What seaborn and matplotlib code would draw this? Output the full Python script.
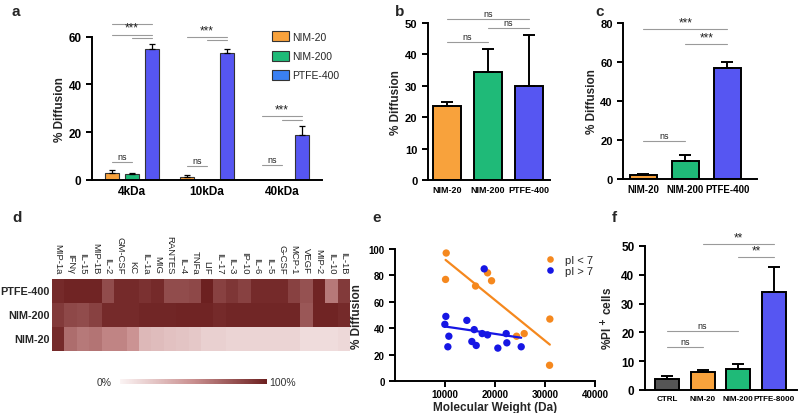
import numpy as np
import pandas as pd
import matplotlib
matplotlib.use('Agg')
import matplotlib.pyplot as plt
from matplotlib.colors import LinearSegmentedColormap
from matplotlib.patches import Patch
import seaborn as sns

# ---- data ----
# a: % diffusion by dextran size
sizes = ['4kDa', '10kDa', '40kDa']
groups_a = ['NIM-20', 'NIM-200', 'PTFE-400']
a_nim20 = [3.0, 1.3, 0.0]
a_nim200 = [2.5, 0.0, 0.0]
a_ptfe = [55.0, 53.2, 18.9]
a_nim20_err = [1.0, 0.7, 0.0]
a_nim200_err = [0.5, 0.0, 0.0]
a_ptfe_err = [1.8, 1.5, 3.5]

# b and c: % diffusion per membrane
mem3 = ['NIM-20', 'NIM-200', 'PTFE-400']
b_vals = [23.5, 34.5, 29.8]
b_err = [1.2, 7.3, 16.5]
c_vals = [2.0, 9.3, 57.0]
c_err = [0.5, 3.3, 3.0]

# d: cytokine diffusion heatmap (% of max)
cytokines = ['MIP-1a', 'IFNγ', 'IL-15', 'MIP-1B', 'IL-2', 'GM-CSF', 'KC', 'IL-1a', 'MIG',
             'RANTES', 'IL-4', 'TNFa', 'LIF', 'IL-17', 'IL-3', 'IP-10', 'IL-6', 'IL-5',
             'G-CSF', 'MCP-1', 'VEGF', 'MIP-2', 'IL-10', 'IL-1B']
hm_rows = ['PTFE-400', 'NIM-200', 'NIM-20']
d_ptfe = [95, 98, 98, 98, 80, 95, 95, 92, 95, 80, 80, 82, 100, 85, 90, 85, 95, 95, 95, 85, 78, 98, 60, 88]
d_nim200 = [88, 82, 80, 85, 95, 95, 95, 97, 97, 97, 98, 98, 98, 95, 97, 97, 97, 97, 97, 97, 75, 98, 98, 95]
d_nim20 = [95, 65, 60, 62, 55, 55, 48, 30, 28, 25, 24, 22, 18, 18, 16, 16, 16, 16, 16, 16, 12, 12, 12, 14]

# e: diffusion vs molecular weight
e_acid_mw = [10200, 10070, 16070, 18470, 19270, 24270, 25800, 30930, 30870]
e_acid_diff = [97, 77, 72, 82, 76, 34, 36, 47, 12]
e_basic_mw = [10130, 9930, 10730, 10530, 14330, 15330, 15800, 16200, 17400, 17800,
              18470, 20530, 22200, 22330, 25200]
e_basic_diff = [49, 43, 34, 26, 46, 30, 39, 27, 36, 85, 35, 25, 36, 29, 26]

# f: % PI+ cells
f_cats = ['CTRL', 'NIM-20', 'NIM-200', 'PTFE-8000']
f_vals = [3.8, 6.3, 7.3, 34.0]
f_err = [1.2, 0.5, 1.8, 8.7]

ORANGE = '#F8A23C'
GREEN = '#1FBA78'
PURPLE = '#5656F2'

sns.set_style('ticks')
plt.rcParams['font.family'] = ['Liberation Sans', 'DejaVu Sans']
plt.rcParams['font.weight'] = 'bold'
plt.rcParams['axes.labelweight'] = 'bold'

fig = plt.figure(figsize=(8, 4.14), dpi=100)


def prism(ax, ysize=8):
    sns.despine(ax=ax)
    for s in ['left', 'bottom']:
        ax.spines[s].set_linewidth(1.4)
        ax.spines[s].set_color('black')
    ax.tick_params(axis='y', width=1.4, length=4, labelsize=ysize, colors='black')
    ax.tick_params(axis='x', length=0, colors='black')


def sig(ax, x0, x1, y, text):
    ax.plot([x0, x1], [y, y], color='#9a9a9a', lw=0.8, clip_on=False)
    if text:
        size = 8.5 if '*' in text else 6.5
        ax.annotate(text, xy=((x0 + x1) / 2, y), xytext=(0, 0.5), textcoords='offset points',
                    ha='center', va='bottom', fontsize=size, fontweight='normal',
                    color='#222222', annotation_clip=False)


def upper_err(ax, bars, vals, errs, lw=1.0, cap=3):
    xs = [b.get_x() + b.get_width() / 2 for b in bars]
    ax.errorbar(xs, vals, yerr=[np.zeros(len(errs)), errs], fmt='none', ecolor='black',
                elinewidth=lw, capsize=cap, capthick=lw)
    return xs


# ---- a ----
axa = fig.add_axes([0.115, 0.563, 0.2875, 0.346])
df_a = pd.DataFrame({
    'size': sizes * 3,
    'group': [g for g in groups_a for _ in sizes],
    'value': a_nim20 + a_nim200 + a_ptfe,
})
sns.barplot(data=df_a, x='size', y='value', hue='group', hue_order=groups_a,
            palette=[ORANGE, GREEN, PURPLE], gap=0.3, errorbar=None, legend=False,
            saturation=1, edgecolor='#333333', linewidth=0.8, ax=axa)
cx = []
for cont, v, e in zip(axa.containers, [a_nim20, a_nim200, a_ptfe], [a_nim20_err, a_nim200_err, a_ptfe_err]):
    cx.append(upper_err(axa, cont, v, e, lw=0.9, cap=2.5))
axa.set_ylim(0, 60)
axa.set_xlim(-0.53, 2.53)
axa.set_yticks([0, 20, 40, 60])
axa.set_xlabel('')
axa.set_ylabel('% Diffusion', fontsize=8.5, labelpad=2)
axa.tick_params(axis='x', labelsize=8.5)
prism(axa, ysize=8.5)
sig(axa, cx[0][0], cx[2][0], 65.2, '')
sig(axa, cx[0][0], cx[2][0], 60.9, '***')
sig(axa, cx[1][0], cx[2][0], 59.6, '')
sig(axa, cx[0][0], cx[1][0], 7.6, 'ns')
sig(axa, cx[0][1], cx[2][1], 60.0, '***')
sig(axa, cx[1][1], cx[2][1], 58.7, '')
sig(axa, cx[0][1], cx[1][1], 5.9, 'ns')
sig(axa, cx[0][2], cx[2][2], 26.9, '***')
sig(axa, cx[1][2], cx[2][2], 25.2, '')
sig(axa, cx[0][2], cx[1][2], 6.4, 'ns')
handles = [Patch(facecolor=c, edgecolor='#333333', linewidth=0.8, label=g)
           for c, g in zip([ORANGE, GREEN, '#3A80F2'], groups_a)]
fig.legend(handles=handles, loc='upper left', bbox_to_anchor=(0.328, 0.945), frameon=False,
           prop={'size': 7.5, 'weight': 'normal'}, handlelength=1.7, handleheight=1.1,
           labelspacing=0.85, handletextpad=0.3)

# ---- b ----
axb = fig.add_axes([0.535, 0.563, 0.1525, 0.379])
sns.barplot(x=mem3, y=b_vals, hue=mem3, palette=[ORANGE, GREEN, PURPLE], width=0.68,
            legend=False, saturation=1, edgecolor='black', linewidth=1.4, ax=axb)
bx = upper_err(axb, axb.patches, b_vals, b_err, lw=1.4, cap=4)
axb.set_ylim(0, 50)
axb.set_xlim(-0.46, 2.51)
axb.set_yticks([0, 10, 20, 30, 40, 50])
axb.set_ylabel('% Diffusion', fontsize=8.5, labelpad=2)
axb.tick_params(axis='x', labelsize=6.5)
prism(axb)
sig(axb, bx[0], bx[2], 51.3, 'ns')
sig(axb, bx[1], bx[2], 48.4, 'ns')
sig(axb, bx[0], bx[1], 43.9, 'ns')

# ---- c ----
axc = fig.add_axes([0.779, 0.565, 0.1675, 0.377])
sns.barplot(x=mem3, y=c_vals, hue=mem3, palette=[ORANGE, GREEN, PURPLE], width=0.65,
            legend=False, saturation=1, edgecolor='black', linewidth=1.4, ax=axc)
ccx = upper_err(axc, axc.patches, c_vals, c_err, lw=1.4, cap=4)
axc.set_ylim(0, 80)
axc.set_xlim(-0.48, 2.71)
axc.set_yticks([0, 20, 40, 60, 80])
axc.set_ylabel('% Diffusion', fontsize=8.5, labelpad=2)
axc.tick_params(axis='x', labelsize=7)
prism(axc)
sig(axc, ccx[0], ccx[2], 76.9, '***')
sig(axc, ccx[1], ccx[2], 69.2, '***')
sig(axc, ccx[0], ccx[1], 19.5, 'ns')

# ---- d ----
axd = fig.add_axes([0.065, 0.150, 0.3725, 0.174])
cax = fig.add_axes([0.15, 0.070, 0.184, 0.012])
df_d = pd.DataFrame([d_ptfe, d_nim200, d_nim20], index=hm_rows, columns=cytokines)
cmap = LinearSegmentedColormap.from_list('wr', ['#fbf4f4', '#c98f8f', '#6c2020'])
sns.heatmap(df_d, ax=axd, cmap=cmap, vmin=0, vmax=100, cbar_ax=cax,
            cbar_kws={'orientation': 'horizontal'}, xticklabels=True, yticklabels=True)
axd.xaxis.tick_top()
axd.set_xticklabels(cytokines, rotation=-90, fontsize=6.8, fontweight='normal', va='bottom')
axd.set_yticklabels(hm_rows, rotation=0, fontsize=7.8, fontweight='bold')
axd.tick_params(axis='x', length=0, pad=4)
axd.tick_params(axis='y', length=0, pad=1.5)
axd.set_xlabel('')
axd.set_ylabel('')
cax.set_xticks([])
axd.collections[0].colorbar.outline.set_visible(False)
fig.text(0.14, 0.076, '0%', ha='right', va='center', fontsize=7.5, fontweight='normal', color='#333333')
fig.text(0.337, 0.076, '100%', ha='left', va='center', fontsize=7.5, fontweight='normal', color='#333333')

# ---- e ----
axe = fig.add_axes([0.494, 0.077, 0.25, 0.319])
df_e = pd.DataFrame({
    'mw': e_acid_mw + e_basic_mw,
    'diff': e_acid_diff + e_basic_diff,
    'pI': ['pI < 7'] * len(e_acid_mw) + ['pI > 7'] * len(e_basic_mw),
})
pal_e = {'pI < 7': '#F5881E', 'pI > 7': '#1616E4'}
sns.scatterplot(data=df_e, x='mw', y='diff', hue='pI', palette=pal_e, s=28, linewidth=0, ax=axe)
for key in ['pI < 7', 'pI > 7']:
    sub = df_e[df_e['pI'] == key]
    sns.regplot(data=sub, x='mw', y='diff', scatter=False, ci=None, truncate=True,
                color=pal_e[key], line_kws={'lw': 1.6}, ax=axe)
axe.set_xlim(0, 40000)
axe.set_ylim(0, 100)
axe.set_xticks([10000, 20000, 30000, 40000])
axe.set_yticks([0, 20, 40, 60, 80, 100])
axe.set_xlabel('Molecular Weight (Da)', fontsize=8.5, labelpad=1)
axe.set_ylabel('% Diffusion', fontsize=8.5)
prism(axe, ysize=7)
axe.tick_params(axis='x', width=1.4, length=4, labelsize=7, pad=2)
axe.legend(loc='upper right', bbox_to_anchor=(1.04, 1.03), frameon=False, title=None,
           prop={'size': 8, 'weight': 'normal'}, handletextpad=0.4, labelspacing=0.1,
           markerscale=0.9)

# ---- f ----
axf = fig.add_axes([0.806, 0.0556, 0.19, 0.348])
sns.barplot(x=f_cats, y=f_vals, hue=f_cats, palette=['#555555', ORANGE, GREEN, PURPLE], width=0.67,
            legend=False, saturation=1, edgecolor='black', linewidth=1.4, ax=axf)
fx = upper_err(axf, axf.patches, f_vals, f_err, lw=1.4, cap=4)
axf.set_ylim(0, 50)
axf.set_xlim(-0.62, 3.64)
axf.set_yticks([0, 10, 20, 30, 40, 50])
axf.set_ylabel(r'%PI $^{\mathbf{+}}$ cells', fontsize=8.5)
axf.tick_params(axis='x', labelsize=5.8)
prism(axf, ysize=8.5)
sig(axf, fx[1], fx[3], 50.7, '**')
sig(axf, fx[2], fx[3], 46.2, '**')
sig(axf, fx[0], fx[2], 20.5, 'ns')
sig(axf, fx[0], fx[1], 14.9, 'ns')

# panel letters
for lab, x, y in [('a', 0.015, 0.972), ('b', 0.494, 0.972), ('c', 0.744, 0.972),
                  ('d', 0.015, 0.473), ('e', 0.465, 0.473), ('f', 0.765, 0.473)]:
    fig.text(x, y, lab, fontsize=11, fontweight='bold', ha='left', va='center')

fig.savefig('out.png', dpi=100)
